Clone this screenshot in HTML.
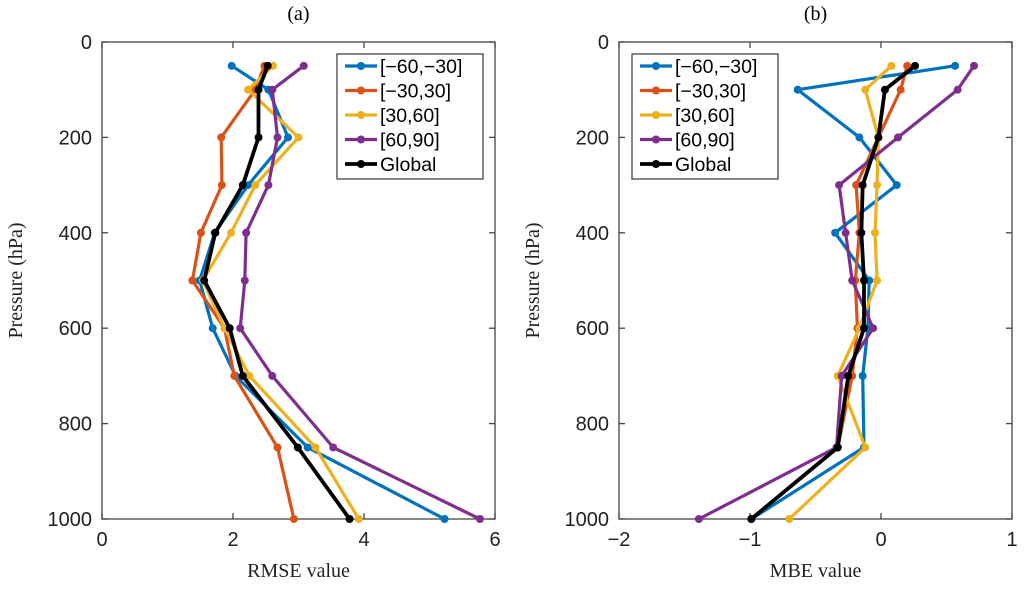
<!DOCTYPE html>
<html><head><meta charset="utf-8"><style>
body{margin:0;background:#fff;}
svg text{font-family:"Liberation Sans",sans-serif;}
.serif{font-family:"Liberation Serif",serif;}
</style></head><body>
<svg id="chart" width="1024" height="584" xmlns="http://www.w3.org/2000/svg"></svg>
<script>
const levels=[50,100,200,300,400,500,600,700,850,1000];
const seriesNames=["[-60,-30]","[-30,30]","[30,60]","[60,90]","Global"];
const colors=["#0072BD","#D95319","#EDB120","#7E2F8E","#000000"];
const rmseS1=[1.98,2.54,2.84,2.23,1.72,1.49,1.69,2.04,3.14,5.23];
const rmseS2=[2.48,2.34,1.82,1.83,1.51,1.38,1.87,2.02,2.68,2.93];
const rmseS3=[2.61,2.23,3.00,2.34,1.97,1.54,1.87,2.25,3.26,3.92];
const rmseS4=[3.08,2.60,2.68,2.54,2.20,2.18,2.11,2.60,3.53,5.77];
const rmseG=[2.53,2.39,2.39,2.15,1.73,1.56,1.95,2.15,2.99,3.78];
const mbeS1=[0.565,-0.636,-0.165,0.12,-0.35,-0.09,-0.10,-0.14,-0.13,-0.99];
const mbeS2=[0.20,0.15,-0.02,-0.19,-0.165,-0.196,-0.18,-0.22,-0.33,-0.99];
const mbeS3=[0.08,-0.12,-0.02,-0.03,-0.046,-0.03,-0.165,-0.33,-0.12,-0.70];
const mbeS4=[0.71,0.585,0.13,-0.32,-0.27,-0.22,-0.06,-0.30,-0.34,-1.39];
const mbeG=[0.26,0.03,-0.02,-0.14,-0.15,-0.13,-0.13,-0.25,-0.33,-0.99];
const yTicks=[0,200,400,600,800,1000];
const xTicksA=[0,2,4,6];
const xTicksB=[-2,-1,0,1];
const NS="http://www.w3.org/2000/svg";
const svg=document.getElementById('chart');
function mk(tag,attrs,parent){const e=document.createElementNS(NS,tag);for(const k in attrs)e.setAttribute(k,attrs[k]);(parent||svg).appendChild(e);return e;}
function panel(id,x0,x1,xmin,xmax,xticks,xlabel,title,series,legX){
  const y0=42,y1=519;
  const sx=v=>x0+(v-xmin)/(xmax-xmin)*(x1-x0);
  const sy=p=>y0+p/1000*(y1-y0);
  const g=mk('g',{});
  
  
  const box=mk('rect',{x:x0,y:y0,width:x1-x0,height:y1-y0,fill:'#fff',stroke:'#444','stroke-width':1.3},g);
  
  
  yTicks.forEach(t=>{const y=sy(t);
    mk('line',{x1:x0,y1:y,x2:x0+6,y2:y,stroke:'#444','stroke-width':1.3},g);
    mk('line',{x1:x1,y1:y,x2:x1-6,y2:y,stroke:'#444','stroke-width':1.3},g);
    const tx=mk('text',{x:x0-10,y:y+7,'text-anchor':'end','font-size':20,fill:'#222'},g);tx.textContent=t;
    
    });
  xticks.forEach(t=>{const x=sx(t);
    mk('line',{x1:x,y1:y1,x2:x,y2:y1-6,stroke:'#444','stroke-width':1.3},g);
    mk('line',{x1:x,y1:y0,x2:x,y2:y0+6,stroke:'#444','stroke-width':1.3},g);
    const tx=mk('text',{x:x,y:y1+27,'text-anchor':'middle','font-size':20,fill:'#222'},g);tx.textContent=t<0?'\u2212'+(-t):t;
    
    });
  const xl=mk('text',{x:(x0+x1)/2,y:577,'text-anchor':'middle','font-size':20,class:'serif',fill:'#222'},g);xl.textContent=xlabel;
  
  
  const yl=mk('text',{x:0,y:0,'text-anchor':'middle','font-size':20,class:'serif',fill:'#222',transform:`translate(${x0-80},${(y0+y1)/2}) rotate(-90)`},g);yl.textContent='Pressure (hPa)';
  
  
  const ti=mk('text',{x:(x0+x1)/2,y:20,'text-anchor':'middle','font-size':20,class:'serif',fill:'#000'},g);ti.textContent=title;
  
  
  series.forEach((vals,i)=>{
    const pts=vals.map((v,j)=>sx(v).toFixed(1)+','+sy(levels[j]).toFixed(1)).join(' ');
    const pl=mk('polyline',{points:pts,fill:'none',stroke:colors[i],'stroke-width':i==4?3.8:3.2,'stroke-linejoin':'round'},g);
    
    
    vals.forEach((v,j)=>{const c=mk('circle',{cx:sx(v),cy:sy(levels[j]),r:4,fill:colors[i]},g);
      
      });
  });
  const lg=mk('g',{},g);
  
  
  mk('rect',{x:legX,y:54,width:146,height:125,fill:'#fff',stroke:'#444','stroke-width':1.3},lg);
  seriesNames.forEach((n,i)=>{const y=66+i*24.5;
    mk('line',{x1:legX+8,y1:y,x2:legX+40,y2:y,stroke:colors[i],'stroke-width':i==4?3.8:3.2},lg);
    mk('circle',{cx:legX+24,cy:y,r:4,fill:colors[i]},lg);
    const t=mk('text',{x:legX+43,y:y+7,'font-size':19.5,fill:'#000'},lg);t.textContent=n.replace(/-/g,'\u2212');
    
    });
}
panel('rmse',102,495,0,6,xTicksA,'RMSE value','(a)',[rmseS1,rmseS2,rmseS3,rmseS4,rmseG],337);
panel('mbe',619,1012,-2,1,xTicksB,'MBE value','(b)',[mbeS1,mbeS2,mbeS3,mbeS4,mbeG],632);
</script>
</body></html>
